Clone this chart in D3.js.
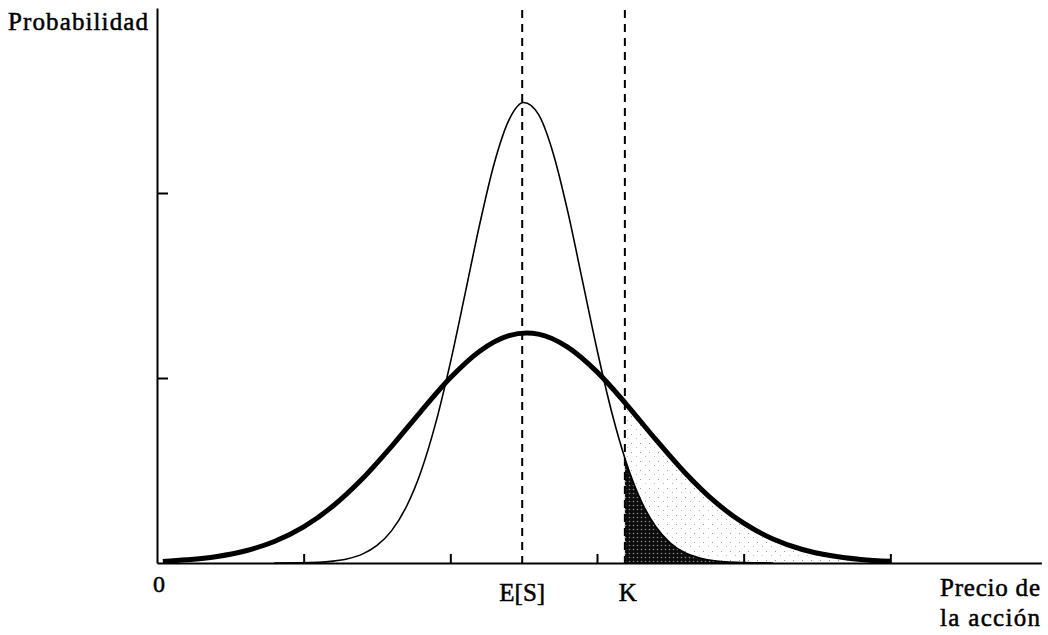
<!DOCTYPE html>
<html>
<head>
<meta charset="utf-8">
<script src="https://cdn.jsdelivr.net/npm/d3@7"></script>
<style>
  html, body { margin: 0; padding: 0; background: #fff; }
  svg { display: block; }
  text { font-family: "Liberation Serif", "Times New Roman", serif; fill: #000; stroke: #000; stroke-width: 0.5px; }
</style>
</head>
<body>
<svg id="chart" width="1048" height="635"></svg>
<script>
// Price grid and density readings for the narrow (low volatility) distribution
const narrowX = [0.8, 1.1, 1.2, 1.3, 1.4, 1.5, 1.6, 1.7, 1.8, 1.9, 2.0, 2.1, 2.2, 2.3, 2.4, 2.5,
                 2.6, 2.7, 2.8, 2.9, 3.0, 3.1, 3.2, 3.3, 3.4, 3.5, 3.6, 3.7, 3.8, 3.9, 4.2];
const narrowY = [0, 0.004, 0.010, 0.023, 0.048, 0.095, 0.175, 0.304, 0.495, 0.756, 1.082, 1.453, 1.830, 2.162, 2.395, 2.489,
                 2.426, 2.218, 1.902, 1.529, 1.154, 0.816, 0.542, 0.337, 0.197, 0.108, 0.055, 0.027, 0.012, 0.005, 0];

// Price grid and density readings for the wide (high volatility) distribution
const wideX = [0.04, 0.2, 0.4, 0.6, 0.8, 1.0, 1.2, 1.4, 1.6, 1.8, 2.0, 2.2, 2.4, 2.52, 2.6,
               2.8, 3.0, 3.2, 3.4, 3.6, 3.8, 4.0, 4.2, 4.4, 4.6, 4.8, 5.0];
const wideY = [0.008, 0.017, 0.034, 0.065, 0.116, 0.195, 0.308, 0.455, 0.631, 0.820, 1.001, 1.145, 1.229, 1.243, 1.237,
               1.167, 1.033, 0.858, 0.668, 0.488, 0.334, 0.215, 0.130, 0.073, 0.039, 0.019, 0.009];

// Reference prices: expected price and strike
const expectedPrice = 2.49;
const strikePrice = 3.19;

// Axis ticks
const xTicks = [1, 2, 3, 4, 5];
const yTicks = [1, 2];
const originLabel = "0";
const yTitle = "Probabilidad";
const xTitleLines = ["Precio de", "la acción"];

const svg = d3.select("#chart");

const x = d3.scaleLinear().domain([0, 6.03]).range([157, 1041.4]);
const y = d3.scaleLinear().domain([0, 3]).range([563, 8]);

const narrow = narrowX.map((v, i) => ({ x: v, y: narrowY[i] }));
const wide = wideX.map((v, i) => ({ x: v, y: wideY[i] }));

const line = d3.line().x(d => x(d.x)).y(d => y(d.y)).curve(d3.curveMonotoneX);
const area = d3.area().x(d => x(d.x)).y0(y(0)).y1(d => y(d.y)).curve(d3.curveMonotoneX);

const defs = svg.append("defs");

// Dense halftone for the in-the-money area of the narrow distribution
const dark = defs.append("pattern").attr("id", "darkDots")
  .attr("patternUnits", "userSpaceOnUse").attr("width", 4).attr("height", 4);
dark.append("rect").attr("width", 4).attr("height", 4).attr("fill", "#0c0c0c");
dark.append("circle").attr("cx", 1.5).attr("cy", 1.5).attr("r", 0.8).attr("fill", "#8a8a8a");

// Sparse stipple for the in-the-money area of the wide distribution
const light = defs.append("pattern").attr("id", "lightDots")
  .attr("patternUnits", "userSpaceOnUse").attr("width", 9).attr("height", 9);
light.append("rect").attr("x", 1).attr("y", 2).attr("width", 1).attr("height", 1).attr("fill", "#999");
light.append("rect").attr("x", 6).attr("y", 6).attr("width", 1).attr("height", 1).attr("fill", "#bbb");

defs.append("clipPath").attr("id", "itm")
  .append("rect")
  .attr("x", x(strikePrice)).attr("y", 0)
  .attr("width", 1048 - x(strikePrice)).attr("height", y(0));

// Shaded tails beyond the strike
svg.append("path").datum(wide)
  .attr("d", area).attr("fill", "url(#lightDots)").attr("clip-path", "url(#itm)");
svg.append("path").datum(narrow)
  .attr("d", area).attr("fill", "url(#darkDots)").attr("clip-path", "url(#itm)");

// Axes
const xAxis = d3.axisBottom(x).tickValues(xTicks).tickSizeInner(-9).tickSizeOuter(0).tickFormat("");
const yAxis = d3.axisLeft(y).tickValues(yTicks).tickSizeInner(-11).tickSizeOuter(0).tickFormat("");

const gx = svg.append("g").attr("transform", `translate(0,${y(0)})`).call(xAxis);
const gy = svg.append("g").attr("transform", `translate(${x(0)},0)`).call(yAxis);
[gx, gy].forEach(g => {
  g.select(".domain").attr("stroke", "#000").attr("stroke-width", 2);
  g.selectAll(".tick line").attr("stroke", "#000").attr("stroke-width", 2);
});

// Dashed reference lines at E[S] and K
[expectedPrice, strikePrice].forEach(v => {
  svg.append("line")
    .attr("x1", x(v)).attr("x2", x(v))
    .attr("y1", 10).attr("y2", y(0))
    .attr("stroke", "#000").attr("stroke-width", 2)
    .attr("stroke-dasharray", "8,6");
});

// Density curves
svg.append("path").datum(narrow)
  .attr("d", line).attr("fill", "none").attr("stroke", "#000").attr("stroke-width", 1.6);
svg.append("path").datum(wide)
  .attr("d", line).attr("fill", "none").attr("stroke", "#000").attr("stroke-width", 5);

// Labels
svg.append("text").attr("x", 8).attr("y", 30)
  .attr("font-size", 25).attr("textLength", 140).attr("lengthAdjust", "spacing")
  .text(yTitle);

svg.append("text").attr("x", x(0) + 2).attr("y", 592)
  .attr("font-size", 24).attr("text-anchor", "middle").text(originLabel);

svg.append("text").attr("x", x(expectedPrice)).attr("y", 601)
  .attr("font-size", 25).attr("text-anchor", "middle").text("E[S]");

svg.append("text").attr("x", x(strikePrice) + 3).attr("y", 601)
  .attr("font-size", 25).attr("text-anchor", "middle").text("K");

xTitleLines.forEach((t, i) => {
  svg.append("text").attr("x", 940).attr("y", 596 + i * 30)
    .attr("font-size", 25).attr("textLength", 100).attr("lengthAdjust", "spacing")
    .text(t);
});
</script>
</body>
</html>
